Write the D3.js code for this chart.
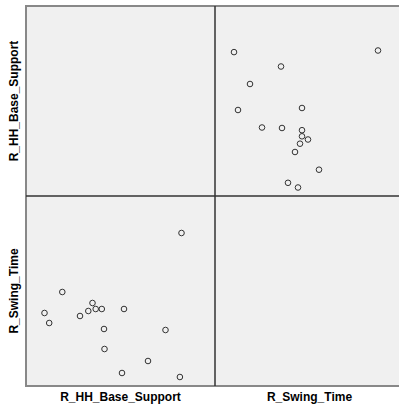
<!DOCTYPE html>
<html>
<head>
<meta charset="utf-8">
<script src="https://cdn.jsdelivr.net/npm/d3@7"></script>
<style>
  body { margin: 0; background: #fff; }
  text { font-family: "Liberation Sans", Arial, sans-serif; font-weight: bold; font-size: 12px; fill: #000; }
</style>
</head>
<body>
<script>
// variables of the matrix
const variables = ["R_HH_Base_Support", "R_Swing_Time"];

// one value per subject
const baseSupport = [19.39, 13.6, 16.2, 11.85, 17.95, 11.8, 6.32, 9.4, 5.85, 10.23, 10.97, 11.58, 13.8, 10.65, 7.63, 19.55];
const swingTime = [0.359, 0.363, 0.375, 0.387, 0.406, 0.407, 0.413, 0.420, 0.423, 0.425, 0.427, 0.427, 0.427, 0.433, 0.444, 0.503];

const domains = {
    R_HH_Base_Support: [5, 24],
    R_Swing_Time: [0.35, 0.54]
};
const values = {
    R_HH_Base_Support: baseSupport,
    R_Swing_Time: swingTime
};

const W = 399, H = 406;
const marginLeft = 26, marginTop = 6, cellW = 189, cellH = 190;

const svg = d3.select('body').append('svg')
    .attr('width', W)
    .attr('height', H);

// background
svg.append('rect')
    .attr('x', marginLeft).attr('y', marginTop)
    .attr('width', cellW * 2).attr('height', cellH * 2)
    .attr('fill', '#f0f0f0');

variables.forEach((rowVar, r) => {
    variables.forEach((colVar, c) => {
        const x0 = marginLeft + c * cellW, y0 = marginTop + r * cellH;
        if (r === c) return;
        const x = d3.scaleLinear().domain(domains[colVar]).range([x0 + 10, x0 + 10 + cellH]);
        const y = d3.scaleLinear().domain(domains[rowVar]).range([y0 + cellH, y0]);
        const pts = d3.range(baseSupport.length).map(i => [values[colVar][i], values[rowVar][i]]);
        svg.append('g').selectAll('circle')
            .data(pts)
            .enter()
            .append('circle')
                .attr('cx', d => x(d[0]))
                .attr('cy', d => y(d[1]))
                .attr('r', 2.8)
                .attr('fill', 'none')
                .attr('stroke', '#333')
                .attr('stroke-width', 1);
    });
});

// frame
svg.append('rect')
    .attr('x', marginLeft).attr('y', marginTop)
    .attr('width', cellW * 2).attr('height', cellH * 2)
    .attr('fill', 'none')
    .attr('stroke', '#888')
    .attr('stroke-width', 2);

// inner cross
svg.append('line')
    .attr('x1', marginLeft + cellW).attr('x2', marginLeft + cellW)
    .attr('y1', marginTop).attr('y2', marginTop + cellH * 2)
    .attr('stroke', '#333').attr('stroke-width', 1.5);
svg.append('line')
    .attr('x1', marginLeft).attr('x2', marginLeft + cellW * 2)
    .attr('y1', marginTop + cellH).attr('y2', marginTop + cellH)
    .attr('stroke', '#333').attr('stroke-width', 1.5);

// bottom labels
variables.forEach((v, i) => {
    svg.append('text')
        .attr('x', marginLeft + cellW * i + cellW / 2)
        .attr('y', 401)
        .attr('text-anchor', 'middle')
        .text(v);
});

// left labels
variables.forEach((v, i) => {
    svg.append('text')
        .attr('transform', 'translate(18,' + (marginTop + cellH * i + cellH / 2) + ') rotate(-90)')
        .attr('text-anchor', 'middle')
        .text(v);
});
</script>
</body>
</html>
